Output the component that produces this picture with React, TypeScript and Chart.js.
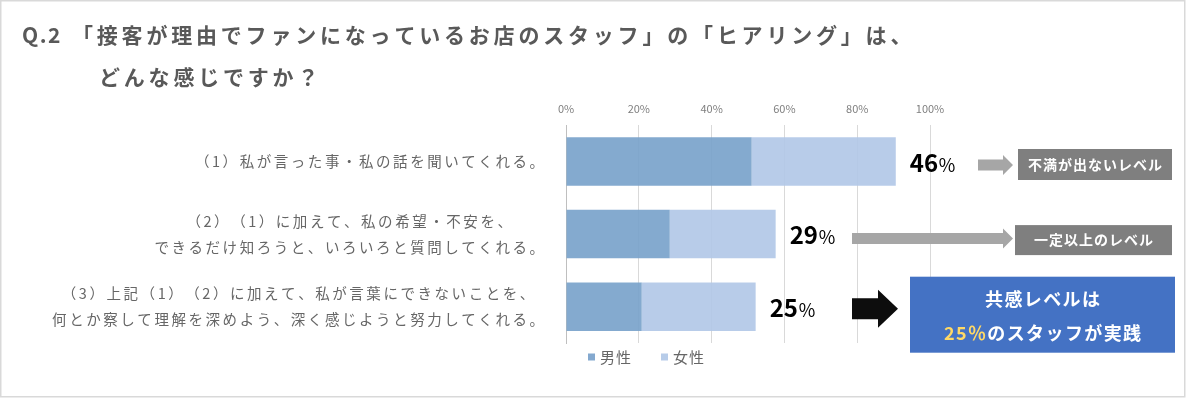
import { useEffect, useRef } from "react";
import { Chart, registerables } from "chart.js";

Chart.register(...registerables);

const FONT = '"Noto Sans CJK JP", "Noto Sans", sans-serif';

// ---- data ----
const categoryLabels: string[][] = [
  ["（1）私が言った事・私の話を聞いてくれる。"],
  ["（2）（1）に加えて、私の希望・不安を、", "できるだけ知ろうと、いろいろと質問してくれる。"],
  ["（3）上記（1）（2）に加えて、私が言葉にできないことを、", "何とか察して理解を深めよう、深く感じようと努力してくれる。"],
];
const seriesNames = ["男性", "女性"];
const maleValues = [51.0, 28.5, 20.8];
const femaleValues = [39.6, 29.1, 31.3];
const averageValues = [46, 29, 25];
const xTickStep = 20;
const xMax = 100;
const levelLabels = ["不満が出ないレベル", "一定以上のレベル"];
const summaryLine1 = "共感レベルは";
const summaryHighlight = "25％";
const summaryRest = "のスタッフが実践";
const titlePrefix = "Q.2";
const titleLine1 = "「接客が理由でファンになっているお店のスタッフ」の「ヒアリング」は、";
const titleLine2 = "どんな感じですか？";

const maleColor = "#84a9cf";
const femaleColor = "#b7cce9";
const maleBarColor = "rgba(119,161,202,0.9)";
const femaleBarColor = "rgba(176,199,231,0.9)";

function spacedWidth(ctx: CanvasRenderingContext2D, text: string, sp: number) {
  let w = 0;
  for (const ch of text) w += ctx.measureText(ch).width + sp;
  return w - sp;
}
function drawSpaced(ctx: CanvasRenderingContext2D, text: string, x: number, y: number, sp: number) {
  let cx = x;
  for (const ch of text) {
    ctx.fillText(ch, cx, y);
    cx += ctx.measureText(ch).width + sp;
  }
  return cx;
}
function drawArrow(
  ctx: CanvasRenderingContext2D,
  x0: number, x1: number, cy: number,
  shaftH: number, headH: number, headL: number, color: string
) {
  ctx.fillStyle = color;
  ctx.beginPath();
  ctx.moveTo(x0, cy - shaftH / 2);
  ctx.lineTo(x1 - headL, cy - shaftH / 2);
  ctx.lineTo(x1 - headL, cy - headH / 2);
  ctx.lineTo(x1, cy);
  ctx.lineTo(x1 - headL, cy + headH / 2);
  ctx.lineTo(x1 - headL, cy + shaftH / 2);
  ctx.lineTo(x0, cy + shaftH / 2);
  ctx.closePath();
  ctx.fill();
}

const annotPlugin = {
  id: "annot",
  beforeDraw(chart: any) {
    const ctx: CanvasRenderingContext2D = chart.ctx;
    ctx.save();
    ctx.fillStyle = "#ffffff";
    ctx.fillRect(0, 0, chart.width, chart.height);
    ctx.restore();
  },
  afterDraw(chart: any) {
    const ctx: CanvasRenderingContext2D = chart.ctx;
    const yScale = chart.scales.y;
    const area = chart.chartArea;
    ctx.save();
    ctx.textAlign = "left";
    ctx.textBaseline = "middle";

    // frame
    ctx.strokeStyle = "#d9d9d9";
    ctx.lineWidth = 1.5;
    ctx.strokeRect(0.75, 0.75, chart.width - 2, chart.height - 2);

    // title
    ctx.fillStyle = "#595959";
    ctx.font = `bold 21px ${FONT}`;
    drawSpaced(ctx, titlePrefix, 22, 35, 1.5);
    drawSpaced(ctx, titleLine1, 72, 35, 3.8);
    drawSpaced(ctx, titleLine2, 99, 77, 3.8);

    // category labels
    ctx.font = `14.5px ${FONT}`;
    ctx.fillStyle = "#666666";
    const right = area.left - 22;
    const sp = 2.55;
    categoryLabels.forEach((lines, i) => {
      const cy = yScale.getPixelForValue(i);
      const widths = lines.map((l) => spacedWidth(ctx, l, sp));
      const maxW = Math.max(...widths);
      const mid = right - maxW / 2;
      lines.forEach((l, k) => {
        const ly = cy + (k - (lines.length - 1) / 2) * 26;
        drawSpaced(ctx, l, mid - widths[k] / 2, ly, sp);
      });
    });

    // value labels
    const meta = chart.getDatasetMeta(1);
    averageValues.forEach((v, i) => {
      const bar = meta.data[i];
      if (!bar) return;
      const x = bar.x + 14;
      const by = bar.y + 10;
      ctx.textBaseline = "alphabetic";
      ctx.fillStyle = "#000000";
      ctx.font = `bold 24px ${FONT}`;
      const s = String(v);
      ctx.fillText(s, x, by);
      const w = ctx.measureText(s).width;
      ctx.font = `18px ${FONT}`;
      ctx.fillText("％", x + w, by);
    });
    ctx.textBaseline = "middle";

    // annotations
    const c0 = yScale.getPixelForValue(0);
    const c1 = yScale.getPixelForValue(1);
    const c2 = yScale.getPixelForValue(2);

    drawArrow(ctx, 978, 1013, c0 + 3.5, 11, 20, 10, "#a6a6a6");
    drawArrow(ctx, 852, 1013, c1 + 4.5, 11, 20, 10, "#a6a6a6");
    drawArrow(ctx, 852, 898, c2 + 2, 21, 38, 20, "#0d0d0d");

    const grayBoxes = [
      { x0: 1018, x1: 1172, cy: c0 + 3, h: 31, text: levelLabels[0] },
      { x0: 1015, x1: 1172, cy: c1 + 6, h: 30, text: levelLabels[1] },
    ];
    grayBoxes.forEach((b) => {
      ctx.fillStyle = "#7f7f7f";
      ctx.fillRect(b.x0, b.cy - b.h / 2, b.x1 - b.x0, b.h);
      ctx.fillStyle = "#ffffff";
      ctx.font = `bold 14px ${FONT}`;
      const w = spacedWidth(ctx, b.text, 1);
      drawSpaced(ctx, b.text, (b.x0 + b.x1) / 2 - w / 2, b.cy, 1);
    });

    // blue summary box
    const bx0 = 910, bx1 = 1175;
    const by0 = c2 - 30, by1 = c2 + 46;
    ctx.fillStyle = "#4472c4";
    ctx.fillRect(bx0, by0, bx1 - bx0, by1 - by0);
    const bcx = (bx0 + bx1) / 2;
    ctx.font = `bold 18px ${FONT}`;
    ctx.fillStyle = "#ffffff";
    const w1 = spacedWidth(ctx, summaryLine1, 1.4);
    drawSpaced(ctx, summaryLine1, bcx - w1 / 2, by0 + 22, 1.4);
    const wh = spacedWidth(ctx, summaryHighlight, 1.4) + 1.4;
    const wr = spacedWidth(ctx, summaryRest, 1.4);
    const sx = bcx - (wh + wr) / 2;
    ctx.fillStyle = "#ffd966";
    drawSpaced(ctx, summaryHighlight, sx, by0 + 56, 1.4);
    ctx.fillStyle = "#ffffff";
    drawSpaced(ctx, summaryRest, sx + wh, by0 + 56, 1.4);

    // legend
    const legendY = area.bottom + 14;
    const legendItems = [
      { x: 588, color: maleColor, text: seriesNames[0] },
      { x: 661, color: femaleColor, text: seriesNames[1] },
    ];
    legendItems.forEach((it) => {
      ctx.fillStyle = it.color;
      ctx.fillRect(it.x, legendY - 3.5, 7, 7);
      ctx.fillStyle = "#666666";
      ctx.font = `15px ${FONT}`;
      drawSpaced(ctx, it.text, it.x + 12, legendY, 1);
    });

    ctx.restore();
  },
};

export default function App() {
  const ref = useRef<HTMLCanvasElement>(null);
  useEffect(() => {
    if (!ref.current) return;
    Chart.defaults.font.family = FONT;
    const chart = new Chart(ref.current, {
      type: "bar",
      data: {
        labels: categoryLabels,
        datasets: [
          {
            label: seriesNames[0],
            data: maleValues,
            backgroundColor: maleBarColor,
            borderWidth: 0,
            categoryPercentage: 1,
            barPercentage: 0.668,
          },
          {
            label: seriesNames[1],
            data: femaleValues,
            backgroundColor: femaleBarColor,
            borderWidth: 0,
            categoryPercentage: 1,
            barPercentage: 0.668,
          },
        ],
      },
      options: {
        indexAxis: "y",
        animation: false,
        responsive: true,
        maintainAspectRatio: false,
        layout: { padding: { left: 566, right: 256, top: 92, bottom: 55 } },
        plugins: {
          legend: { display: false },
          tooltip: { enabled: false },
          title: { display: false },
        },
        scales: {
          x: {
            stacked: true,
            position: "top",
            min: 0,
            max: xMax,
            ticks: {
              stepSize: xTickStep,
              callback: (v: any) => `${v}%`,
              font: { size: 11, family: FONT },
              color: "#7f7f7f",
              padding: 10,
            },
            grid: { color: "#d9d9d9", drawTicks: false, lineWidth: 1 },
            border: { display: false },
          },
          y: {
            stacked: true,
            ticks: { display: false },
            grid: { display: false, drawTicks: false },
            border: { display: true, color: "#bfbfbf", width: 1 },
          },
        },
      },
      plugins: [annotPlugin],
    });
    return () => chart.destroy();
  }, []);
  return (
    <div style={{ position: "fixed", left: 0, top: 0, width: 1186, height: 398, background: "#fff" }}>
      <canvas ref={ref} />
    </div>
  );
}
